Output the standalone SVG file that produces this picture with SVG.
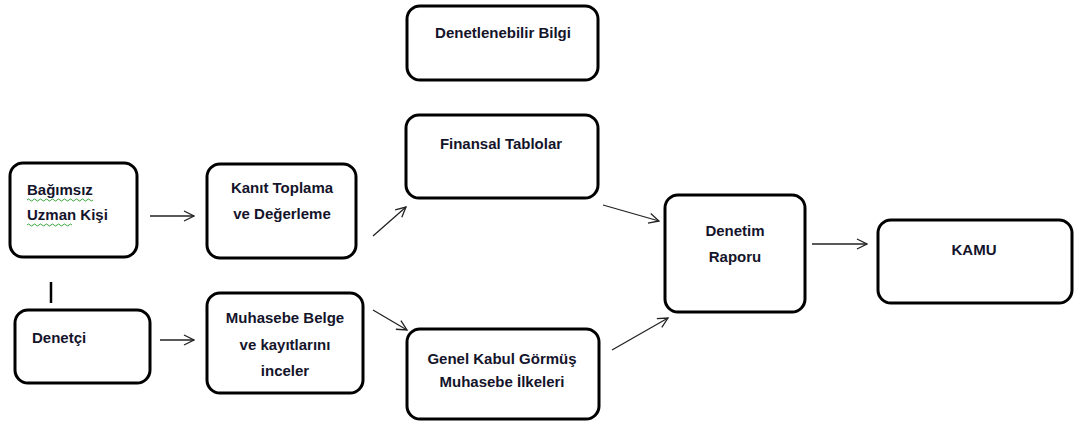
<svg xmlns="http://www.w3.org/2000/svg" width="1076" height="426" viewBox="0 0 1076 426">
<style>
.box{fill:#fff;stroke:#000;stroke-width:3}
.t{font-family:"Liberation Sans",Arial,sans-serif;font-weight:bold;font-size:15px;fill:#14142b}
.c{text-anchor:middle}
.ln{stroke:#222;stroke-width:1.3;fill:none}
.sq{stroke:#3aa53a;stroke-width:1;fill:none}
</style>
<defs>
<marker id="ah" viewBox="0 0 12 12" refX="11" refY="6" markerWidth="12" markerHeight="12" markerUnits="userSpaceOnUse" orient="auto">
<path d="M1,1 L11,6 L1,11" fill="none" stroke="#222" stroke-width="1.3"/>
</marker>
</defs>
<rect width="1076" height="426" fill="#fff"/>
<g id="n-bagimsiz">
<rect class="box" x="10" y="163" width="127" height="94" rx="13"/>
<text class="t" x="27" y="195">Bağımsız</text>
<text class="t" x="27" y="220">Uzman Kişi</text>
<path class="sq" d="M27,200 q1.5,-2 3,0 t3,0 t3,0 t3,0 t3,0 t3,0 t3,0 t3,0 t3,0 t3,0 t3,0 t3,0 t3,0 t3,0 t3,0 t3,0 t3,0 t3,0 t3,0 t3,0 t3,0 t3,0"/>
<path class="sq" d="M27,225 q1.5,-2 3,0 t3,0 t3,0 t3,0 t3,0 t3,0 t3,0 t3,0 t3,0 t3,0 t3,0 t3,0 t3,0 t3,0 t3,0"/>
</g>
<g id="n-denetci">
<rect class="box" x="15" y="310" width="135" height="73" rx="13"/>
<text class="t" x="32" y="343">Denetçi</text>
</g>
<g id="n-kanit">
<rect class="box" x="207" y="164" width="149" height="94" rx="13"/>
<text class="t c" x="282" y="193">Kanıt Toplama</text>
<text class="t c" x="282" y="219">ve Değerleme</text>
</g>
<g id="n-muhasebe">
<rect class="box" x="207" y="293" width="156" height="100" rx="13"/>
<text class="t c" x="285" y="323">Muhasebe Belge</text>
<text class="t c" x="285" y="350">ve kayıtlarını</text>
<text class="t c" x="285" y="376">inceler</text>
</g>
<g id="n-denetlenebilir">
<rect class="box" x="407" y="6" width="191" height="74" rx="13"/>
<text class="t c" x="503" y="38">Denetlenebilir Bilgi</text>
</g>
<g id="n-finansal">
<rect class="box" x="406" y="115" width="192" height="83" rx="13"/>
<text class="t c" x="501" y="149">Finansal Tablolar</text>
</g>
<g id="n-genel">
<rect class="box" x="407" y="329" width="192" height="90" rx="13"/>
<text class="t c" x="502" y="364">Genel Kabul Görmüş</text>
<text class="t c" x="502" y="387">Muhasebe İlkeleri</text>
</g>
<g id="n-denetim">
<rect class="box" x="665" y="195" width="140" height="117" rx="13"/>
<text class="t c" x="735" y="236">Denetim</text>
<text class="t c" x="735" y="262">Raporu</text>
</g>
<g id="n-kamu">
<rect class="box" x="878" y="220" width="194" height="83" rx="13"/>
<text class="t c" x="974" y="255">KAMU</text>
</g>
<g id="connectors">
<line x1="51" y1="282" x2="51" y2="303" stroke="#000" stroke-width="2.5"/>
<line class="ln" x1="150" y1="216" x2="194" y2="216" marker-end="url(#ah)"/>
<line class="ln" x1="160" y1="340" x2="194" y2="340" marker-end="url(#ah)"/>
<line class="ln" x1="373" y1="236" x2="406" y2="207" marker-end="url(#ah)"/>
<line class="ln" x1="373" y1="310" x2="407" y2="330" marker-end="url(#ah)"/>
<line class="ln" x1="603" y1="205" x2="659" y2="221" marker-end="url(#ah)"/>
<line class="ln" x1="612" y1="350" x2="668" y2="318" marker-end="url(#ah)"/>
<line class="ln" x1="812" y1="244" x2="867" y2="244" marker-end="url(#ah)"/>
</g>
</svg>
